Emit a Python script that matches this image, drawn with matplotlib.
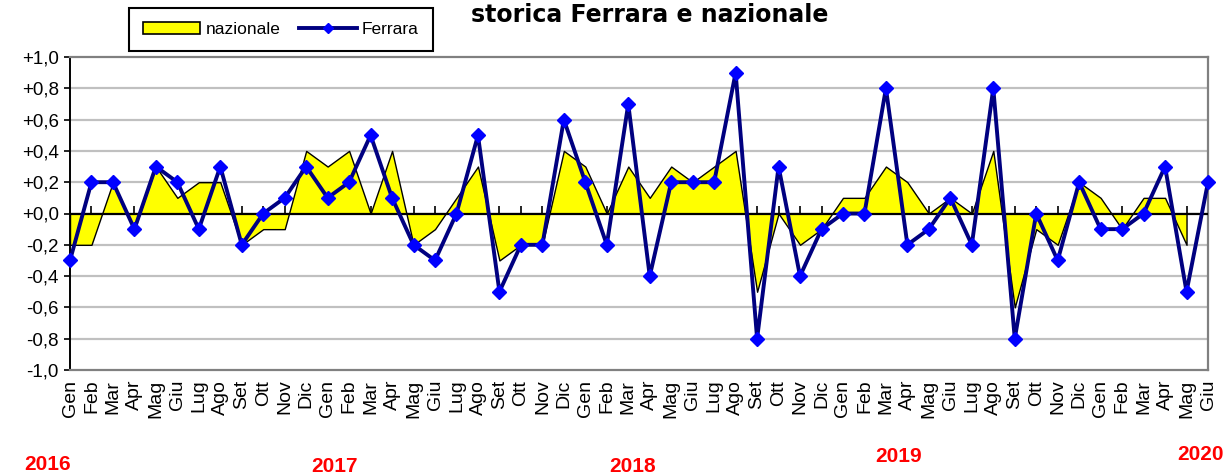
import matplotlib
matplotlib.use("Agg")
import matplotlib.pyplot as plt
import numpy as np
from matplotlib.patches import Patch
from matplotlib.lines import Line2D

month_names = ['Gen', 'Feb', 'Mar', 'Apr', 'Mag', 'Giu', 'Lug', 'Ago', 'Set', 'Ott', 'Nov', 'Dic']
tick_labels = month_names * 4 + month_names[:6]

years = ['2016', '2017', '2018', '2019', '2020']

nazionale = [-0.2, -0.2, 0.2, -0.1, 0.3, 0.1, 0.2, 0.2, -0.2, -0.1, -0.1, 0.4,
             0.3, 0.4, 0.0, 0.4, -0.2, -0.1, 0.1, 0.3, -0.3, -0.2, -0.2, 0.4,
             0.3, 0.0, 0.3, 0.1, 0.3, 0.2, 0.3, 0.4, -0.5, 0.0, -0.2, -0.1,
             0.1, 0.1, 0.3, 0.2, 0.0, 0.1, 0.0, 0.4, -0.6, -0.1, -0.2, 0.2,
             0.1, -0.1, 0.1, 0.1, -0.2]

ferrara = [-0.3, 0.2, 0.2, -0.1, 0.3, 0.2, -0.1, 0.3, -0.2, 0.0, 0.1, 0.3,
           0.1, 0.2, 0.5, 0.1, -0.2, -0.3, 0.0, 0.5, -0.5, -0.2, -0.2, 0.6,
           0.2, -0.2, 0.7, -0.4, 0.2, 0.2, 0.2, 0.9, -0.8, 0.3, -0.4, -0.1,
           0.0, 0.0, 0.8, -0.2, -0.1, 0.1, -0.2, 0.8, -0.8, 0.0, -0.3, 0.2,
           -0.1, -0.1, 0.0, 0.3, -0.5, 0.2]

ytick_vals = [-1.0, -0.8, -0.6, -0.4, -0.2, 0.0, 0.2, 0.4, 0.6, 0.8, 1.0]
ytick_labels = ['-1,0', '-0,8', '-0,6', '-0,4', '-0,2', '+0,0', '+0,2', '+0,4', '+0,6', '+0,8', '+1,0']

W, H = 1227, 474
fig = plt.figure(figsize=(W / 100, H / 100), dpi=100)
plt.rcParams['font.family'] = ['Liberation Sans', 'DejaVu Sans']

ax = fig.add_axes([70 / W, 1 - 370 / H, (1208 - 70) / W, (370 - 57) / H])
x_all = np.arange(len(tick_labels))
x_naz = np.arange(len(nazionale))

ax.set_xlim(0, len(tick_labels) - 1)
ax.set_ylim(-1.0, 1.0)

# grid
for v in ytick_vals:
    if v not in (0.0, -1.0, 1.0):
        ax.axhline(v, color='#c0c0c0', lw=1.6, zorder=0)

ax.fill_between(x_naz, 0, nazionale, facecolor='#ffff00', edgecolor='black', lw=1.0, zorder=2)
ax.axhline(0, color='black', lw=1.6, zorder=3)
ax.plot(x_all, ferrara, color='#000080', lw=2.8, marker='D', markersize=7.5,
        markerfacecolor='#0000ff', markeredgecolor='#0000ff', zorder=4, clip_on=False)

ax.set_yticks(ytick_vals)
ax.set_yticklabels(ytick_labels, fontsize=13.5)
ax.tick_params(axis='y', direction='out', length=4, width=1.2, color='black', pad=4)

ax.set_xticks(x_all)
ax.set_xticklabels(tick_labels, rotation=90, fontsize=14, va='top')
ax.tick_params(axis='x', length=0, pad=7)

for s in ['top', 'right', 'bottom']:
    ax.spines[s].set_color('#808080')
    ax.spines[s].set_linewidth(1.6)
ax.spines['left'].set_color('black')
ax.spines['left'].set_linewidth(1.4)

sec = ax.secondary_xaxis(0.5)
sec.set_xticks(x_all)
sec.set_xticklabels([])
sec.tick_params(axis='x', direction='out', length=5, width=1.2, color='black')
sec.spines['bottom'].set_visible(False)

# legend
handles = [Patch(facecolor='#ffff00', edgecolor='black', lw=1.2),
           Line2D([], [], color='#000080', lw=2.8, marker='D', markersize=5,
                  markerfacecolor='#0000ff', markeredgecolor='#0000ff')]
leg = fig.legend(handles, ['nazionale', 'Ferrara'], loc='upper left',
                 bbox_to_anchor=(129 / W, 1 - 8 / H), ncol=2, fontsize=12.5,
                 frameon=True, fancybox=False, edgecolor='black', framealpha=1,
                 borderaxespad=0, handlelength=3.3, handletextpad=0.3,
                 columnspacing=1.1, borderpad=0.8)
leg.get_frame().set_linewidth(1.5)
leg.set_zorder(10)

# title (top part of the chart title)
fig.text(650 / W, 1 - 22 / H, 'storica Ferrara e nazionale', ha='center', va='baseline',
         fontsize=17, fontweight='bold', family=['DejaVu Sans'])

# year labels
year_pos = [(48, 465), (335, 466), (633, 466), (899, 457), (1201, 455)]
for yr, (px, py) in zip(years, year_pos):
    fig.text(px / W, 1 - py / H, yr, color='#ff0000', fontsize=15, fontweight='bold',
             ha='center', va='center')

fig.savefig('out.png', dpi=100)
